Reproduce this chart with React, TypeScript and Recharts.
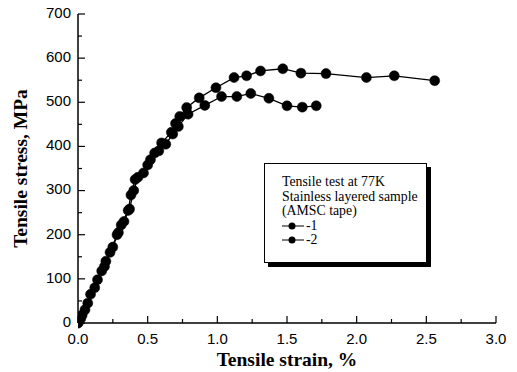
import React from 'react';
import { LineChart, Line, XAxis, YAxis, Legend } from 'recharts';

// Sample 1 (upper curve, extends to ~2.56 %)
const strain1 = [0, 0.03, 0.07, 0.12, 0.17, 0.2, 0.25, 0.29, 0.33, 0.37, 0.4, 0.43, 0.5, 0.55, 0.6, 0.67, 0.7, 0.73, 0.78, 0.87, 0.99, 1.12, 1.21, 1.31, 1.47, 1.6, 1.78, 2.07, 2.27, 2.56];
const stress1 = [0, 18, 45, 80, 118, 140, 172, 205, 230, 258, 300, 330, 358, 385, 408, 432, 452, 468, 488, 510, 533, 556, 560, 571, 576, 566, 565, 556, 560, 549];

// Sample 2 (lower curve, ends at ~1.71 %)
const strain2 = [0, 0.02, 0.05, 0.09, 0.14, 0.19, 0.23, 0.28, 0.31, 0.36, 0.38, 0.41, 0.47, 0.52, 0.58, 0.63, 0.68, 0.72, 0.79, 0.91, 1.03, 1.14, 1.24, 1.37, 1.5, 1.61, 1.71];
const stress2 = [0, 10, 30, 65, 98, 128, 160, 200, 222, 255, 290, 325, 340, 370, 390, 405, 428, 445, 473, 493, 513, 513, 520, 509, 492, 489, 492];

const seriesNames = ['-1', '-2'];
const legendTitle = ['Tensile test at 77K', 'Stainless layered sample', '(AMSC tape)'];
const xTicks = [0, 0.25, 0.5, 0.75, 1, 1.25, 1.5, 1.75, 2, 2.25, 2.5, 2.75, 3];
const yTicks = [0, 50, 100, 150, 200, 250, 300, 350, 400, 450, 500, 550, 600, 650, 700];
const xLabel = 'Tensile strain, %';
const yLabel = 'Tensile stress, MPa';

const data1 = strain1.map((x, i) => ({ x, y: stress1[i] }));
const data2 = strain2.map((x, i) => ({ x, y: stress2[i] }));

const SANS = '"Liberation Sans", Arial, sans-serif';
const SERIF = '"Liberation Serif", "Times New Roman", serif';
const MAJ = 7;
const MIN = 4;

const isMajorX = (v: number) => Math.abs(v * 2 - Math.round(v * 2)) < 1e-6;
const isMajorY = (v: number) => v % 100 === 0;

const BottomTick = (p: any) => {
  const v = p.payload.value;
  const major = isMajorX(v);
  return (
    <g>
      <line x1={p.x} x2={p.x} y1={p.y} y2={p.y - (major ? MAJ : MIN)} stroke="#000" strokeWidth={1.2} />
      {major && (
        <text x={p.x} y={p.y + 10} dy="0.71em" textAnchor="middle" fontFamily={SANS} fontSize={15} fill="#000">
          {v.toFixed(1)}
        </text>
      )}
    </g>
  );
};

const TopTick = (p: any) => {
  const major = isMajorX(p.payload.value);
  return <line x1={p.x} x2={p.x} y1={p.y} y2={p.y + (major ? MAJ : MIN)} stroke="#000" strokeWidth={1.2} />;
};

const LeftTick = (p: any) => {
  const v = p.payload.value;
  const major = isMajorY(v);
  return (
    <g>
      <line x1={p.x} x2={p.x + (major ? MAJ : MIN)} y1={p.y} y2={p.y} stroke="#000" strokeWidth={1.2} />
      {major && (
        <text x={p.x - 7} y={p.y - 1.5} dy="0.355em" textAnchor="end" fontFamily={SANS} fontSize={15} fill="#000">
          {v}
        </text>
      )}
    </g>
  );
};

const RightTick = (p: any) => {
  const major = isMajorY(p.payload.value);
  return <line x1={p.x} x2={p.x - (major ? MAJ : MIN)} y1={p.y} y2={p.y} stroke="#000" strokeWidth={1.2} />;
};

const LegendBox = (props: any) => {
  const payload = props.payload || [];
  return (
    <div
      style={{
        width: 163,
        height: 100,
        boxSizing: 'border-box',
        border: '1px solid #000',
        boxShadow: '4px 4px 0 #000',
        background: '#fff',
        fontFamily: SERIF,
        fontSize: 13.8,
        lineHeight: '14.5px',
        color: '#000',
        textAlign: 'left',
        padding: '11px 0 0 17px',
      }}
    >
      {legendTitle.map((t) => (
        <div key={t} style={{ whiteSpace: 'nowrap' }}>{t}</div>
      ))}
      {payload.map((e: any) => (
        <div key={e.value} style={{ display: 'flex', alignItems: 'center', height: 14.5 }}>
          <svg width={22} height={10} style={{ display: 'block' }}>
            <line x1={0} x2={22} y1={5} y2={5} stroke="#000" strokeWidth={1} />
            <circle cx={10} cy={5} r={3.5} fill="#000" />
          </svg>
          <span style={{ marginLeft: 2 }}>{e.value}</span>
        </div>
      ))}
    </div>
  );
};

const YLabelContent = (p: any) => {
  const vb = p.viewBox || {};
  const cx = 20;
  const cy = vb.y + vb.height / 2;
  return (
    <text x={cx} y={cy} transform={`rotate(-90 ${cx} ${cy})`} textAnchor="middle" dominantBaseline="central" fontFamily={SERIF} fontWeight="bold" fontSize={19.5} fill="#000">
      {yLabel}
    </text>
  );
};

const XLabelContent = (p: any) => {
  const vb = p.viewBox || {};
  const cx = vb.x + vb.width / 2;
  return (
    <text x={cx} y={vb.y + 43} textAnchor="middle" fontFamily={SERIF} fontWeight="bold" fontSize={19.5} fill="#000">
      {xLabel}
    </text>
  );
};

export default function App() {
  return (
    <div style={{ position: 'absolute', left: 0, top: 0, width: 517, height: 372, background: '#fff' }}>
      <LineChart width={517} height={372} margin={{ top: 14, right: 21, bottom: 0, left: 0 }}>
        <XAxis
          xAxisId="b"
          dataKey="x"
          type="number"
          domain={[0, 3]}
          ticks={xTicks}
          interval={0}
          height={49}
          tickSize={0}
          tickMargin={0}
          tickLine={false}
          axisLine={{ stroke: '#000', strokeWidth: 1.5 }}
          tick={<BottomTick />}
          allowDataOverflow
          label={<XLabelContent />}
        />
        <XAxis
          xAxisId="t"
          orientation="top"
          dataKey="x"
          type="number"
          domain={[0, 3]}
          ticks={xTicks}
          interval={0}
          height={0}
          tickSize={0}
          tickMargin={0}
          tickLine={false}
          axisLine={{ stroke: '#000', strokeWidth: 1.5 }}
          tick={<TopTick />}
        />
        <YAxis
          yAxisId="l"
          type="number"
          domain={[0, 700]}
          ticks={yTicks}
          interval={0}
          width={78}
          tickSize={0}
          tickMargin={0}
          tickLine={false}
          axisLine={{ stroke: '#000', strokeWidth: 1.5 }}
          tick={<LeftTick />}
          label={<YLabelContent />}
        />
        <YAxis
          yAxisId="r"
          orientation="right"
          type="number"
          domain={[0, 700]}
          ticks={yTicks}
          interval={0}
          width={0}
          tickSize={0}
          tickMargin={0}
          tickLine={false}
          axisLine={{ stroke: '#000', strokeWidth: 1.5 }}
          tick={<RightTick />}
        />
        <Legend
          layout="vertical"
          align="center"
          verticalAlign="middle"
          content={<LegendBox />}
          wrapperStyle={{ left: 264, top: 163, width: 163, height: 100 }}
        />
        <Line
          xAxisId="b"
          yAxisId="l"
          data={data1}
          dataKey="y"
          name={seriesNames[0]}
          stroke="#000"
          strokeWidth={1.3}
          dot={{ r: 5, fill: '#000', stroke: '#000', strokeWidth: 0.5 }}
          activeDot={false}
          isAnimationActive={false}
        />
        <Line
          xAxisId="b"
          yAxisId="l"
          data={data2}
          dataKey="y"
          name={seriesNames[1]}
          stroke="#000"
          strokeWidth={1.3}
          dot={{ r: 5, fill: '#000', stroke: '#000', strokeWidth: 0.5 }}
          activeDot={false}
          isAnimationActive={false}
        />
      </LineChart>
    </div>
  );
}
